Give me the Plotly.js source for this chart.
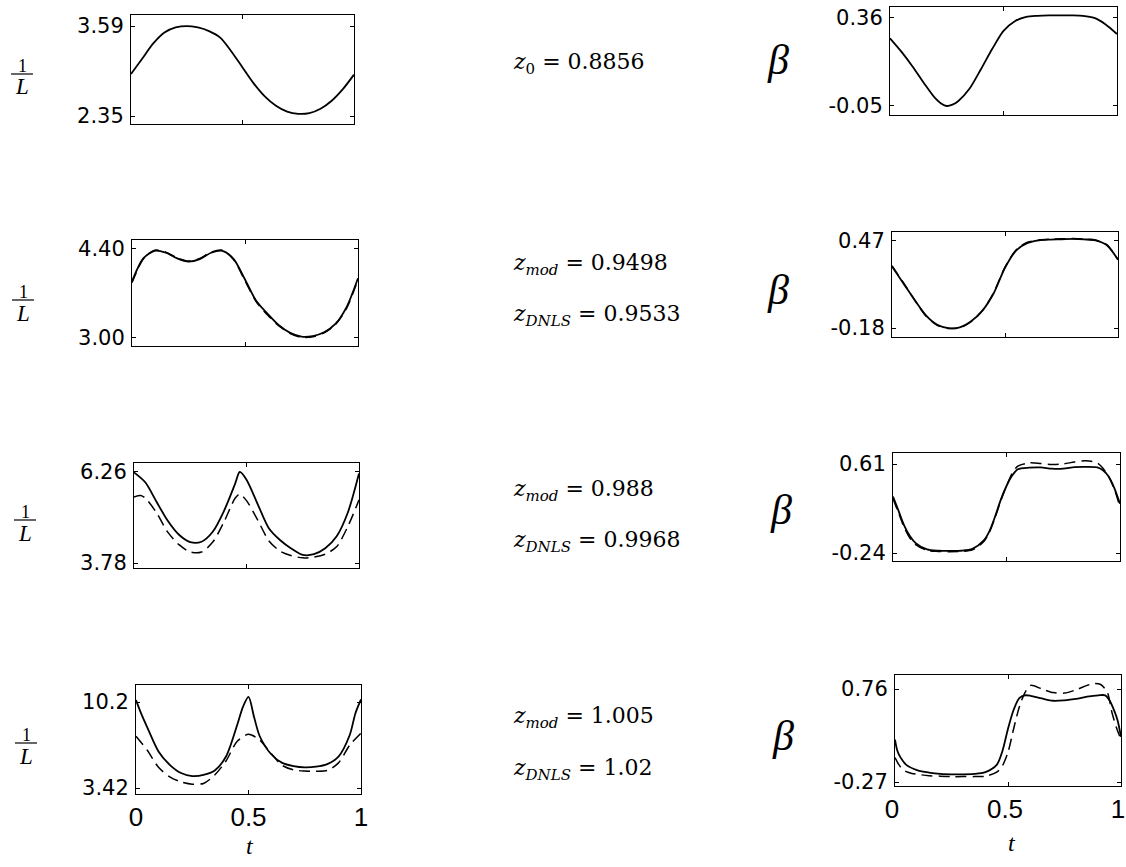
<!DOCTYPE html>
<html><head><meta charset="utf-8">
<script src="https://cdn.plot.ly/plotly-3.0.1.min.js"></script>
<style>html,body{margin:0;padding:0;background:#fff}#chart{width:1126px;height:867px}</style>
</head><body><div id="chart"></div>
<script>
// ---------- data ----------
const t21 = [0,0.05,0.1,0.15,0.2,0.25,0.3,0.35,0.4,0.45,0.5,0.55,0.6,0.65,0.7,0.75,0.8,0.85,0.9,0.95,1];

// row 1 : z0 = 0.8856
const invL_row1 = [2.93,3.14,3.35,3.50,3.57,3.59,3.57,3.52,3.43,3.24,3.02,2.80,2.62,2.49,2.41,2.38,2.39,2.45,2.56,2.72,2.92];
const t_row1_beta = [0,0.05,0.1,0.15,0.2,0.225,0.25,0.275,0.3,0.35,0.4,0.45,0.5,0.55,0.6,0.65,0.7,0.75,0.8,0.85,0.9,0.95,1];
const beta_row1 = [0.265,0.203,0.133,0.056,-0.015,-0.038,-0.05,-0.044,-0.028,0.03,0.12,0.215,0.30,0.345,0.365,0.37,0.372,0.372,0.372,0.37,0.36,0.33,0.285];

// row 2 : z_mod = 0.9498, z_DNLS = 0.9533
const invL_row2_mod  = [3.89,4.25,4.37,4.34,4.25,4.20,4.24,4.34,4.37,4.24,3.92,3.58,3.38,3.20,3.08,3.02,3.03,3.09,3.22,3.49,3.94];
const invL_row2_dnls = [3.87,4.24,4.38,4.35,4.26,4.21,4.25,4.35,4.38,4.23,3.90,3.57,3.36,3.19,3.07,3.01,3.02,3.08,3.21,3.47,3.92];
const beta_row2_mod  = [0.28,0.155,0.03,-0.085,-0.155,-0.18,-0.175,-0.13,-0.05,0.08,0.27,0.40,0.455,0.475,0.48,0.482,0.485,0.482,0.475,0.44,0.33];
const beta_row2_dnls = [0.285,0.16,0.03,-0.09,-0.16,-0.183,-0.178,-0.133,-0.05,0.085,0.275,0.405,0.46,0.478,0.484,0.486,0.488,0.485,0.478,0.443,0.33];

// row 3 : z_mod = 0.988, z_DNLS = 0.9968
const t_row3_mod  = [0,0.05,0.1,0.15,0.2,0.25,0.3,0.35,0.4,0.45,0.47,0.5,0.55,0.6,0.65,0.7,0.75,0.8,0.85,0.9,0.95,1];
const invL_row3_mod  = [6.25,5.98,5.45,4.93,4.55,4.35,4.36,4.63,5.20,5.95,6.26,6.05,5.38,4.72,4.40,4.17,4.00,4.02,4.18,4.50,5.15,6.22];
const t_row3_dnls = [0,0.03,0.05,0.1,0.15,0.2,0.25,0.3,0.35,0.4,0.45,0.47,0.5,0.55,0.6,0.65,0.7,0.75,0.8,0.85,0.9,0.95,1];
const invL_row3_dnls = [5.58,5.62,5.55,5.15,4.62,4.28,4.08,4.08,4.35,4.90,5.55,5.66,5.48,4.95,4.38,4.10,3.98,3.92,3.94,4.02,4.22,4.77,5.50];
const t_row3_beta = [0,0.025,0.05,0.075,0.1,0.15,0.2,0.25,0.3,0.35,0.4,0.425,0.45,0.475,0.5,0.525,0.55,0.6,0.65,0.7,0.75,0.8,0.85,0.9,0.925,0.95,0.975,1];
const beta_row3_mod  = [0.30,0.16,0.02,-0.08,-0.145,-0.205,-0.218,-0.22,-0.218,-0.20,-0.12,-0.03,0.11,0.27,0.40,0.50,0.56,0.575,0.578,0.565,0.565,0.58,0.583,0.578,0.55,0.49,0.38,0.23];
const beta_row3_dnls = [0.28,0.14,0.0,-0.10,-0.16,-0.215,-0.225,-0.228,-0.225,-0.21,-0.13,-0.04,0.10,0.26,0.40,0.52,0.59,0.62,0.615,0.605,0.61,0.63,0.64,0.62,0.57,0.49,0.37,0.20];

// row 4 : z_mod = 1.005, z_DNLS = 1.02
const t_row4_mod = [0,0.025,0.05,0.1,0.15,0.2,0.25,0.3,0.35,0.4,0.45,0.475,0.5,0.525,0.55,0.6,0.65,0.7,0.75,0.8,0.85,0.9,0.95,0.975,1];
const invL_row4_mod  = [10.35,9.2,8.2,6.3,5.25,4.6,4.36,4.45,4.8,5.9,8.4,9.8,10.6,9.0,7.5,6.1,5.4,5.15,5.05,5.1,5.3,5.9,7.6,9.3,10.4];
const invL_row4_dnls = [7.5,6.4,5.05,4.3,3.9,3.72,3.78,4.45,5.55,7.1,7.65,7.2,6.15,5.2,4.85,4.76,4.74,4.8,5.4,6.8,7.75];
const t_row4_beta_mod = [0,0.01,0.025,0.05,0.1,0.15,0.2,0.25,0.3,0.35,0.4,0.45,0.475,0.5,0.525,0.55,0.575,0.6,0.65,0.7,0.75,0.8,0.85,0.9,0.93,0.95,0.97,0.985,1];
const beta_row4_mod  = [0.20,0.08,0.0,-0.08,-0.14,-0.165,-0.18,-0.185,-0.185,-0.18,-0.16,-0.08,0.07,0.32,0.53,0.66,0.69,0.685,0.655,0.63,0.635,0.65,0.675,0.69,0.69,0.63,0.52,0.41,0.23];
const t_row4_beta_dnls = [0,0.015,0.03,0.05,0.075,0.1,0.15,0.2,0.25,0.3,0.35,0.4,0.45,0.475,0.5,0.525,0.55,0.575,0.6,0.65,0.7,0.75,0.8,0.85,0.88,0.91,0.94,0.96,0.98,1];
const beta_row4_dnls = [0.0,-0.07,-0.12,-0.155,-0.175,-0.185,-0.20,-0.205,-0.21,-0.21,-0.21,-0.205,-0.16,-0.09,0.06,0.32,0.56,0.72,0.80,0.76,0.72,0.715,0.75,0.80,0.82,0.81,0.72,0.50,0.33,0.20];

// tick labels and text
const yTicks_invL = [['2.35','3.59'],['3.00','4.40'],['3.78','6.26'],['3.42','10.2']];
const yTicks_beta = [['-0.05','0.36'],['-0.18','0.47'],['-0.24','0.61'],['-0.27','0.76']];
const xTickLabels = ['0','0.5','1'];
const zSubs   = [['0'],['mod','DNLS'],['mod','DNLS'],['mod','DNLS']];
const zValues = [['0.8856'],['0.9498','0.9533'],['0.988','0.9968'],['1.005','1.02']];

// ---------- layout geometry (pixels) ----------
const W = 1126, H = 867;
const px = v => v / W, py = v => 1 - v / H;
const boxes = [ // [left, right, top, bottom, yRange]
  [131,354,15,124,[2.240,3.742]],
  [132,358,240,346,[2.874,4.54]],
  [134,359,463,568,[3.644,6.505]],
  [136,361,685,794,[2.947,11.54]],
  [890,1117,7,115,[-0.092,0.411]],
  [892,1118,232,337,[-0.247,0.537]],
  [893,1120,453,561,[-0.316,0.715]],
  [895,1121,675,786,[-0.314,0.915]]
];
const panelSeries = [
  [[t21,invL_row1,false]],
  [[t21,invL_row2_mod,false],[t21,invL_row2_dnls,true]],
  [[t_row3_mod,invL_row3_mod,false],[t_row3_dnls,invL_row3_dnls,true]],
  [[t_row4_mod,invL_row4_mod,false],[t21,invL_row4_dnls,true]],
  [[t_row1_beta,beta_row1,false]],
  [[t21,beta_row2_mod,false],[t21,beta_row2_dnls,true]],
  [[t_row3_beta,beta_row3_mod,false],[t_row3_beta,beta_row3_dnls,true]],
  [[t_row4_beta_mod,beta_row4_mod,false],[t_row4_beta_dnls,beta_row4_dnls,true]]
];
const yTickSets = yTicks_invL.concat(yTicks_beta);

const traces = [];
const layout = {
  width: W, height: H, margin:{l:0,r:0,t:0,b:0},
  paper_bgcolor:'#fff', plot_bgcolor:'#fff', showlegend:false,
  annotations:[], shapes:[]
};
const axBase = {showgrid:false, zeroline:false, showline:true, linecolor:'#000', linewidth:1,
  mirror:'allticks', ticks:'inside', ticklen:4, tickwidth:1, tickcolor:'#000'};

boxes.forEach((b,i)=>{
  const n = i+1, xs = n===1?'':n, xa='x'+(n===1?'':n), ya='y'+(n===1?'':n);
  const bottom = (i===3 || i===7);
  layout['xaxis'+xs] = Object.assign({}, axBase, {
    domain:[px(b[0]),px(b[1])], range:[0,1], anchor:ya,
    tickvals:xTickLabels.map(Number), ticktext:xTickLabels, showticklabels:bottom,
    ticklabelshift: i===7 ? -3 : 0,
    tickfont:{family:'Liberation Sans, Arial, sans-serif', size:26, color:'#000'}
  });
  layout['yaxis'+xs] = Object.assign({}, axBase, {
    domain:[py(b[3]),py(b[2])], range:b[4], anchor:xa,
    tickvals:yTickSets[i].map(Number), ticktext:yTickSets[i],
    ticklabelstandoff:2,
    tickfont:{family:'DejaVu Sans, sans-serif', size:21, color:'#000'}
  });
  panelSeries[i].forEach(s=>{
    traces.push({x:s[0], y:s[1], xaxis:xa, yaxis:ya, type:'scatter', mode:'lines', hoverinfo:'skip',
      line:{color:'#000', width:s[2]?1.5:1.8, dash:s[2]?'11px,6px':'solid', shape:'spline', smoothing:0.8}});
  });
});

const serif = 'DejaVu Serif, serif';
const lserif = 'Liberation Serif, serif';
function ann(x,y,text,size,opts,fam){
  layout.annotations.push(Object.assign({xref:'paper',yref:'paper',x:px(x),y:py(y),text:text,showarrow:false,
    xanchor:'center',yanchor:'middle',font:{family:fam||serif,size:size,color:'#000'}},opts||{}));
}
// 1/L labels (numerator, denominator, bar drawn as a shape)
[[22,74],[23,300],[25,520],[26,743]].forEach(p=>{
  ann(p[0],p[1]-8,'1',18,{},lserif);
  ann(p[0],p[1]+13,'<i>L</i>',23,{},lserif);
  layout.shapes.push({type:'line',xref:'paper',yref:'paper',x0:px(p[0]-11),x1:px(p[0]+11),y0:py(p[1]),y1:py(p[1]),line:{color:'#000',width:1.2}});
});
// beta labels
[[778,60],[778,290],[781,510],[783,736]].forEach(p=>ann(p[0],p[1],'<i>β</i>',42,{},lserif));
// z labels (subscript as a smaller, lowered span)
const zRows = [[64],[265,316],[490,541],[717,769]];
zSubs.forEach((row,r)=>row.forEach((sub,k)=>{
  const subTxt = sub==='0' ? sub : '<i>'+sub+'</i>';
  const txt = '<i>z</i><span style="font-size:15px;baseline-shift:-5px">'+subTxt+'</span> = '+zValues[r][k];
  ann(511,zRows[r][k],txt,22,{xanchor:'left'});
}));
// t labels
ann(250,846,'<i>t</i>',24,{},lserif);
ann(1012,843,'<i>t</i>',24,{},lserif);

Plotly.newPlot('chart', traces, layout, {staticPlot:true, displayModeBar:false});
</script>
</body></html>
